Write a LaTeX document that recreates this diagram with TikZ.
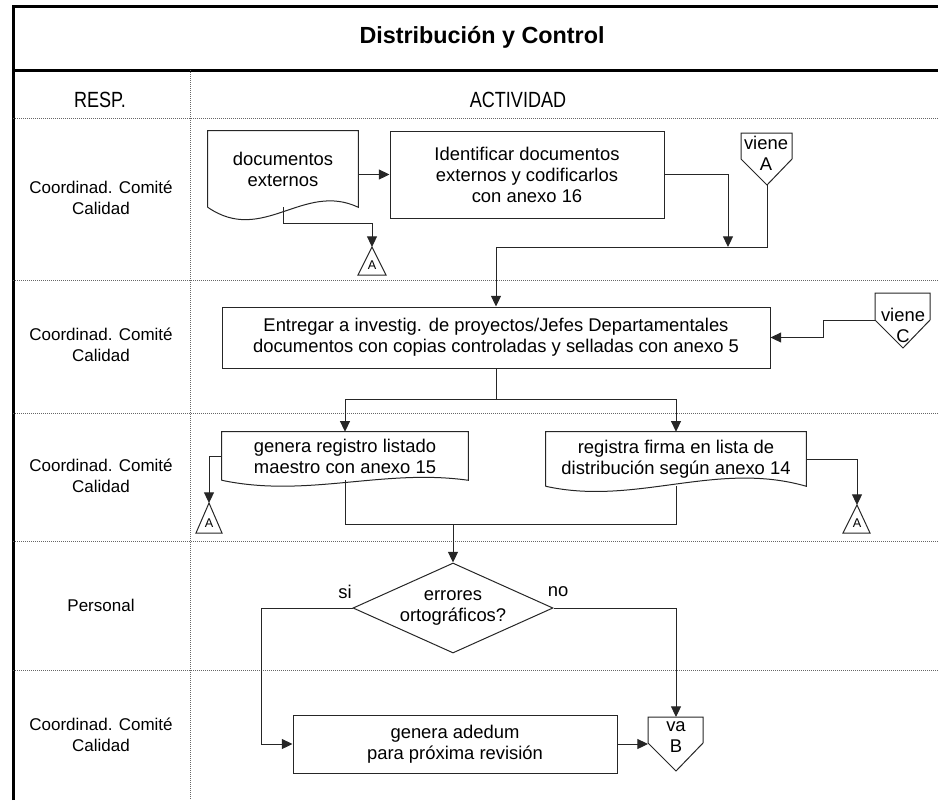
\documentclass[tikz,border=0pt]{standalone}
\usepackage{fontspec}
\setmainfont{Liberation Sans}
\newfontfamily\narrowfont[FakeStretch=0.82]{Liberation Sans}
\usetikzlibrary{arrows.meta,shapes.geometric}

\begin{document}
\begin{tikzpicture}[x=0.75pt,y=-0.75pt,
  txt/.style={font=\fontsize{13.8}{15.75}\selectfont, align=center, inner sep=0pt},
  resp/.style={font=\fontsize{12.75}{15.75}\selectfont, align=center},
  cabeza/.style={font=\narrowfont\fontsize{16.5}{18}\selectfont},
  linea/.style={draw=black!85, line width=0.75pt},
  caja/.style={linea, txt},
  flecha/.style={linea, -{Triangle[length=8pt,width=7.5pt]}},
  carril/.style={draw=black!60, line width=0.75pt, dash pattern=on 0.75pt off 0.75pt},
  marco/.style={line width=2.25pt},
  letra/.style={font=\fontsize{9.5}{10}\selectfont, inner sep=0pt}]

\useasboundingbox (0,0) rectangle (938,800);

% marco y carriles
\draw[marco] (13,800) -- (13,6) -- (938,6);
\draw[marco] (13,70) -- (938,70);
\foreach \y in {118,280,413,541,670}
  \draw[carril] (13,\y) -- (938,\y);
\draw[carril] (190,70) -- (190,800);

\node[font=\bfseries\fontsize{17.5}{20}\selectfont] (titulo) at (482,37) {Distribución y Control};
\node[cabeza] (hresp) at (100,100) {RESP.};
\node[cabeza] (hact) at (518,100) {ACTIVIDAD};

\foreach \y in {198,345,476,735}
  \node[resp] (r\y) at (101,\y) {Coordinad. Comité\\Calidad};
\node[resp] (r605) at (101,605) {Personal};

% carril 1
\node[txt, minimum width=112.5pt, minimum height=57pt] (docext) at (283,169) {documentos\\externos};
\draw[linea] (docext.south west) -- (docext.north west) -- (docext.north east) -- (docext.south east)
  .. controls +(-55,-26) and +(55,38) .. (docext.south west);
\node[caja, minimum width=205.5pt, minimum height=65.25pt] (ident) at (527,174.5)
  {Identificar documentos\\externos y codificarlos\\con anexo 16};

\draw[linea] (741,133) -- (792,133) -- (792,159) -- (767,185) -- (741,159) -- cycle;
\node[txt] (vA) at (766,153) {viene\\A};
\coordinate (vAtip) at (767,185);

\draw[linea] (372,247) -- (386,275) -- (358,275) -- cycle;
\node[letra] (tA1) at (372,265) {A};
\coordinate (tA1top) at (372,247);

\coordinate (jid) at (728,247);
\coordinate (jn) at (496,247);
\draw[flecha] (docext.east |- ident.west) -- (ident.west);
\draw[flecha] (ident.east) -| (jid);
\draw[flecha] (docext.south) -- ++(0,16) -| (tA1top);

% carril 2
\node[caja, minimum width=411pt, minimum height=45.75pt] (entr) at (496,337.5)
  {Entregar a investig. de proyectos/Jefes Departamentales\\documentos con copias controladas y selladas con anexo 5};
\draw[flecha] (vAtip) |- (jn) -- (entr.north);

\draw[linea] (875,293) -- (930,293) -- (930,320) -- (903,348) -- (875,320) -- cycle;
\node[txt] (vC) at (903,325) {viene\\C};
\coordinate (vCw) at (875,320);
\coordinate (cbend) at (823,320);
\draw[flecha] (vCw) -- (cbend) |- (entr.east);

% carril 3
\coordinate (jsp) at (496,399);
\node[txt, minimum width=184.5pt, minimum height=36pt] (regist) at (345,456)
  {genera registro listado\\maestro con anexo 15};
\draw[linea] (regist.south west) -- (regist.north west) -- (regist.north east) -- (regist.south east)
  .. controls +(-85,-12) and +(85,18) .. (regist.south west);
\node[txt, minimum width=195pt, minimum height=40.5pt] (firma) at (676,459)
  {registra firma en lista de\\distribución según anexo 14};
\draw[linea] (firma.south west) -- (firma.north west) -- (firma.north east) -- (firma.south east)
  .. controls +(-90,-26) and +(90,20) .. (firma.south west);

\draw[linea] (209,503) -- (222,533) -- (196,533) -- cycle;
\node[letra] (tA2) at (209,523) {A};
\coordinate (tA2top) at (209,503);
\draw[linea] (857,505) -- (870,533) -- (843,533) -- cycle;
\node[letra] (tA3) at (857,523) {A};
\coordinate (tA3top) at (857,505);

\draw[linea] (entr.south) -- (jsp);
\draw[flecha] (jsp) -| (regist.north);
\draw[flecha] (jsp) -| (firma.north);
\draw[flecha] (regist.west) -| (tA2top);
\draw[flecha] (firma.east) -| (tA3top);

% carril 4
\coordinate (jm) at (453,524);
\node[linea, diamond, aspect=2.2, minimum width=150pt, minimum height=67.5pt, txt] (err) at (453,608)
  {errores\\ortográficos?};
\node[txt] (si) at (345,592) {si};
\node[txt] (no) at (558,592) {no};
\draw[linea] (regist.south) |- (jm) -| (firma.south);
\draw[flecha] (jm) -- (err.north);

% carril 5
\node[caja, minimum width=243pt, minimum height=43.5pt] (aded) at (455,744)
  {genera adedum\\para próxima revisión};
\draw[linea] (648,717) -- (703,717) -- (703,743) -- (676,771) -- (648,743) -- cycle;
\node[txt] (vB) at (676,737.5) {va\\B};
\coordinate (vBtop) at (676,717);
\coordinate (vBw) at (648,744);
\coordinate (lft) at (261,608);

\draw[flecha] (err.west) -- (lft) |- (aded.west);
\draw[flecha] (err.east) -| (vBtop);
\draw[flecha] (aded.east) -- (vBw);

\end{tikzpicture}
\end{document}
